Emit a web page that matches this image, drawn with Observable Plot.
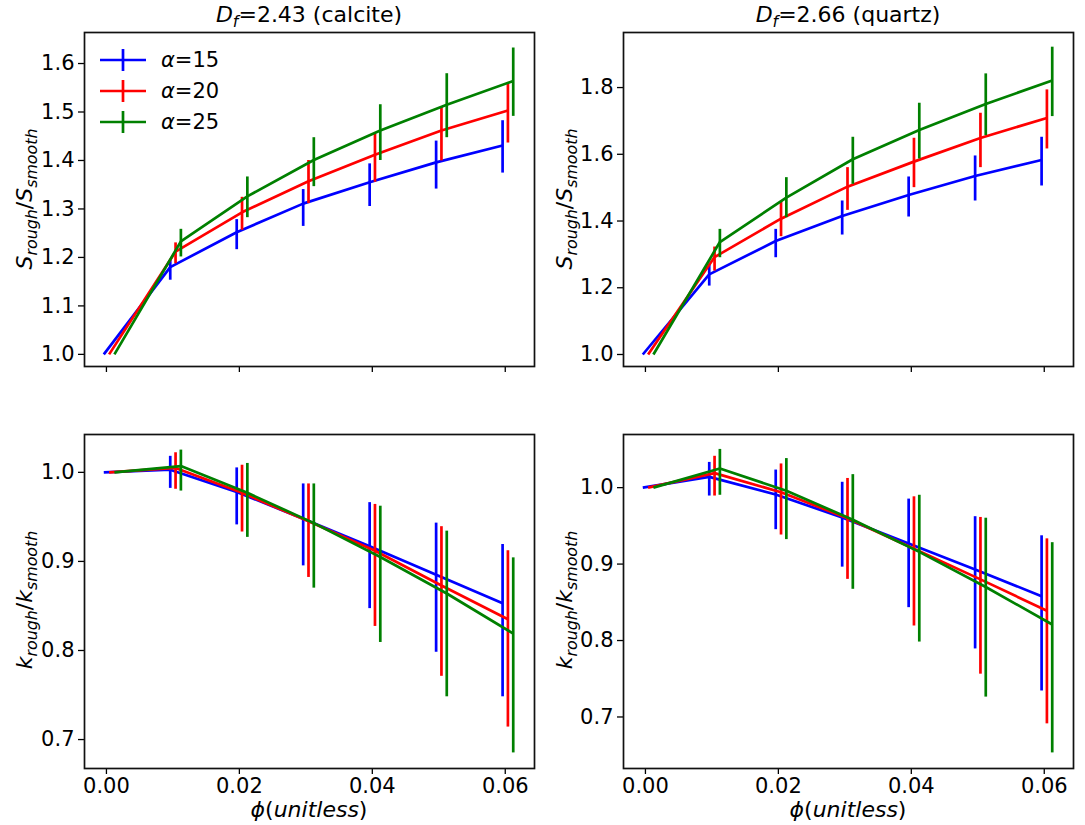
<!DOCTYPE html>
<html><head><meta charset="utf-8">
<script src="https://cdn.jsdelivr.net/npm/d3@7"></script>
<script src="https://cdn.jsdelivr.net/npm/@observablehq/plot@0.6"></script>
<style>
html,body{margin:0;padding:0;background:#fff;}
#fig{position:relative;width:1085px;height:825px;overflow:hidden;font-family:"DejaVu Sans",sans-serif;color:#000;}
.panel{position:absolute;}
.lbl{position:absolute;white-space:nowrap;font-size:22px;line-height:1;}
.rot{transform:translate(-50%,-50%) rotate(-90deg);}
.ctr{transform:translate(-50%,-50%);}
.lbl sub{font-size:72%;vertical-align:-0.32em;line-height:0;}
#legend{position:absolute;left:100px;top:44px;font-size:21px;}
#legend .row{display:flex;align-items:center;height:31px;}
#legend svg{margin-right:15px;}
</style></head><body><div id="fig"></div>
<script>
// ---- data ----
const phi = [0, 0.01, 0.02, 0.03, 0.04, 0.05, 0.06];
const alphas = [15, 20, 25];
const colors = ["#0000ff", "#ff0000", "#008000"];
const xTicks = [0, 0.02, 0.04, 0.06];

// S_rough/S_smooth, calcite (Df=2.43)
const S_calcite_a15 = [1.0, 1.180, 1.252, 1.311, 1.355, 1.396, 1.431];
const S_calcite_a20 = [1.0, 1.212, 1.293, 1.357, 1.412, 1.462, 1.503];
const S_calcite_a25 = [1.0, 1.233, 1.326, 1.401, 1.462, 1.515, 1.564];
const S_calcite_lo_a15 = [null, 1.153, 1.216, 1.264, 1.305, 1.341, 1.374];
const S_calcite_hi_a15 = [null, 1.194, 1.278, 1.340, 1.393, 1.440, 1.482];
const S_calcite_lo_a20 = [null, 1.187, 1.256, 1.311, 1.355, 1.399, 1.436];
const S_calcite_hi_a20 = [null, 1.230, 1.324, 1.400, 1.455, 1.510, 1.561];
const S_calcite_lo_a25 = [null, 1.201, 1.282, 1.346, 1.400, 1.447, 1.491];
const S_calcite_hi_a25 = [null, 1.258, 1.366, 1.447, 1.515, 1.579, 1.632];

// S_rough/S_smooth, quartz (Df=2.66)
const S_quartz_a15 = [1.0, 1.240, 1.340, 1.415, 1.478, 1.535, 1.583];
const S_quartz_a20 = [1.0, 1.292, 1.407, 1.503, 1.578, 1.649, 1.709];
const S_quartz_a25 = [1.0, 1.337, 1.470, 1.585, 1.673, 1.751, 1.821];
const S_quartz_lo_a15 = [null, 1.205, 1.290, 1.358, 1.412, 1.460, 1.505];
const S_quartz_hi_a15 = [null, 1.270, 1.375, 1.460, 1.532, 1.595, 1.651];
const S_quartz_lo_a20 = [null, 1.250, 1.353, 1.432, 1.500, 1.560, 1.616];
const S_quartz_hi_a20 = [null, 1.322, 1.458, 1.560, 1.648, 1.723, 1.793];
const S_quartz_lo_a25 = [null, 1.290, 1.410, 1.510, 1.586, 1.656, 1.713];
const S_quartz_hi_a25 = [null, 1.375, 1.530, 1.651, 1.753, 1.841, 1.921];

// k_rough/k_smooth, calcite
const k_calcite_a15 = [1.0, 1.003, 0.978, 0.948, 0.917, 0.885, 0.853];
const k_calcite_a20 = [1.0, 1.005, 0.977, 0.945, 0.912, 0.873, 0.835];
const k_calcite_a25 = [1.0, 1.007, 0.977, 0.943, 0.905, 0.864, 0.819];
const k_calcite_lo_a15 = [null, 0.982, 0.941, 0.895, 0.847, 0.798, 0.748];
const k_calcite_hi_a15 = [null, 1.018, 1.005, 0.987, 0.966, 0.943, 0.919];
const k_calcite_lo_a20 = [null, 0.981, 0.933, 0.882, 0.827, 0.771, 0.714];
const k_calcite_hi_a20 = [null, 1.022, 1.008, 0.987, 0.964, 0.939, 0.912];
const k_calcite_lo_a25 = [null, 0.979, 0.927, 0.870, 0.809, 0.748, 0.685];
const k_calcite_hi_a25 = [null, 1.025, 1.010, 0.987, 0.962, 0.934, 0.904];

// k_rough/k_smooth, quartz
const k_quartz_a15 = [1.0, 1.014, 0.991, 0.961, 0.927, 0.893, 0.858];
const k_quartz_a20 = [1.0, 1.019, 0.994, 0.960, 0.920, 0.880, 0.839];
const k_quartz_a25 = [1.0, 1.025, 0.996, 0.958, 0.916, 0.870, 0.821];
const k_quartz_lo_a15 = [null, 0.989, 0.945, 0.896, 0.843, 0.789, 0.734];
const k_quartz_hi_a15 = [null, 1.033, 1.023, 1.007, 0.985, 0.962, 0.937];
const k_quartz_lo_a20 = [null, 0.989, 0.938, 0.880, 0.819, 0.756, 0.691];
const k_quartz_hi_a20 = [null, 1.041, 1.031, 1.012, 0.988, 0.961, 0.933];
const k_quartz_lo_a25 = [null, 0.990, 0.932, 0.867, 0.798, 0.726, 0.653];
const k_quartz_hi_a25 = [null, 1.050, 1.038, 1.017, 0.990, 0.960, 0.928];

const yTicksS_calcite = [1.0, 1.1, 1.2, 1.3, 1.4, 1.5, 1.6];
const yTicksS_quartz = [1.0, 1.2, 1.4, 1.6, 1.8];
const yTicksK = [0.7, 0.8, 0.9, 1.0];

// ---- layout ----
const fig = document.getElementById("fig");
const ML = 80, MR = 12, MT = 10, MB = 40;
const FW = 450, FH = 334;
const dodge = [-0.0004, 0.0004, 0.0012];
const xDomain = [-0.0033, 0.0644];

const panels = [
  {left: 84, top: 32, yDomain: [0.975, 1.664], yTicks: yTicksS_calcite, showX: false,
   mean: [S_calcite_a15, S_calcite_a20, S_calcite_a25],
   lo: [S_calcite_lo_a15, S_calcite_lo_a20, S_calcite_lo_a25],
   hi: [S_calcite_hi_a15, S_calcite_hi_a20, S_calcite_hi_a25]},
  {left: 623, top: 32, yDomain: [0.964, 1.965], yTicks: yTicksS_quartz, showX: false,
   mean: [S_quartz_a15, S_quartz_a20, S_quartz_a25],
   lo: [S_quartz_lo_a15, S_quartz_lo_a20, S_quartz_lo_a25],
   hi: [S_quartz_hi_a15, S_quartz_hi_a20, S_quartz_hi_a25]},
  {left: 84, top: 434, yDomain: [0.6675, 1.0425], yTicks: yTicksK, showX: true,
   mean: [k_calcite_a15, k_calcite_a20, k_calcite_a25],
   lo: [k_calcite_lo_a15, k_calcite_lo_a20, k_calcite_lo_a25],
   hi: [k_calcite_hi_a15, k_calcite_hi_a20, k_calcite_hi_a25]},
  {left: 623, top: 434, yDomain: [0.6326, 1.0695], yTicks: yTicksK, showX: true,
   mean: [k_quartz_a15, k_quartz_a20, k_quartz_a25],
   lo: [k_quartz_lo_a15, k_quartz_lo_a20, k_quartz_lo_a25],
   hi: [k_quartz_hi_a15, k_quartz_hi_a20, k_quartz_hi_a25]}
];

for (const cfg of panels) {
  const seriesMarks = [];
  alphas.forEach((a, i) => {
    const rows = phi.map((p, j) => ({alpha: a, x: p + dodge[i], y: cfg.mean[i][j], lo: cfg.lo[i][j], hi: cfg.hi[i][j]}));
    seriesMarks.push(Plot.line(rows, {x: "x", y: "y", stroke: "alpha", strokeWidth: 2.7, strokeLinecap: "butt"}));
    seriesMarks.push(Plot.ruleX(rows.filter(d => d.lo != null), {x: "x", y1: "lo", y2: "hi", stroke: "alpha", strokeWidth: 2.7}));
  });
  const svg = Plot.plot({
    width: FW + ML + MR, height: FH + MT + MB,
    marginLeft: ML, marginRight: MR, marginTop: MT, marginBottom: MB,
    style: {fontFamily: "DejaVu Sans, sans-serif", fontSize: "21px", color: "#000", background: "transparent", overflow: "visible"},
    x: {domain: xDomain},
    y: {domain: cfg.yDomain},
    color: {domain: alphas, range: colors},
    marks: [
      Plot.axisX({ticks: xTicks, tickSize: 6, tickPadding: 4, strokeWidth: 1.3, label: null,
                  tickFormat: cfg.showX ? d3.format(".2f") : () => ""}),
      Plot.axisY({ticks: cfg.yTicks, tickSize: 6, tickPadding: 4, strokeWidth: 1.3, label: null,
                  tickFormat: d3.format(".1f")}),
      ...seriesMarks,
      Plot.frame({stroke: "#111", strokeWidth: 1.7})
    ]
  });
  svg.classList.add("panel");
  svg.style.left = (cfg.left - ML) + "px";
  svg.style.top = (cfg.top - MT) + "px";
  fig.appendChild(svg);
}

// ---- text labels ----
function addLabel(html, x, y, cls) {
  const d = document.createElement("div");
  d.className = "lbl " + cls;
  d.style.left = x + "px";
  d.style.top = y + "px";
  d.innerHTML = html;
  fig.appendChild(d);
}
const titles = ["<i>D</i><sub><i>f</i></sub>=2.43 (calcite)", "<i>D</i><sub><i>f</i></sub>=2.66 (quartz)"];
const yLabelS = "<i>S</i><sub><i>rough</i></sub>/<i>S</i><sub><i>smooth</i></sub>";
const yLabelK = "<i>k</i><sub><i>rough</i></sub>/<i>k</i><sub><i>smooth</i></sub>";
const xLabel = "<i>ϕ</i>(<i>unitless</i>)";

addLabel(titles[0], 309, 15, "ctr");
addLabel(titles[1], 848, 15, "ctr");
addLabel(yLabelS, 25, 199, "rot");
addLabel(yLabelS, 565, 199, "rot");
addLabel(yLabelK, 25, 600, "rot");
addLabel(yLabelK, 565, 600, "rot");
addLabel(xLabel, 309, 810, "ctr");
addLabel(xLabel, 848, 810, "ctr");

// ---- legend ----
const legend = document.createElement("div");
legend.id = "legend";
alphas.forEach((a, i) => {
  const row = document.createElement("div");
  row.className = "row";
  row.innerHTML = `<svg width="46" height="24"><line x1="0" x2="46" y1="12" y2="12" stroke="${colors[i]}" stroke-width="2.7"/><line x1="23" x2="23" y1="1" y2="23" stroke="${colors[i]}" stroke-width="2.7"/></svg><span><i>α</i>=${a}</span>`;
  legend.appendChild(row);
});
fig.appendChild(legend);
</script></body></html>
